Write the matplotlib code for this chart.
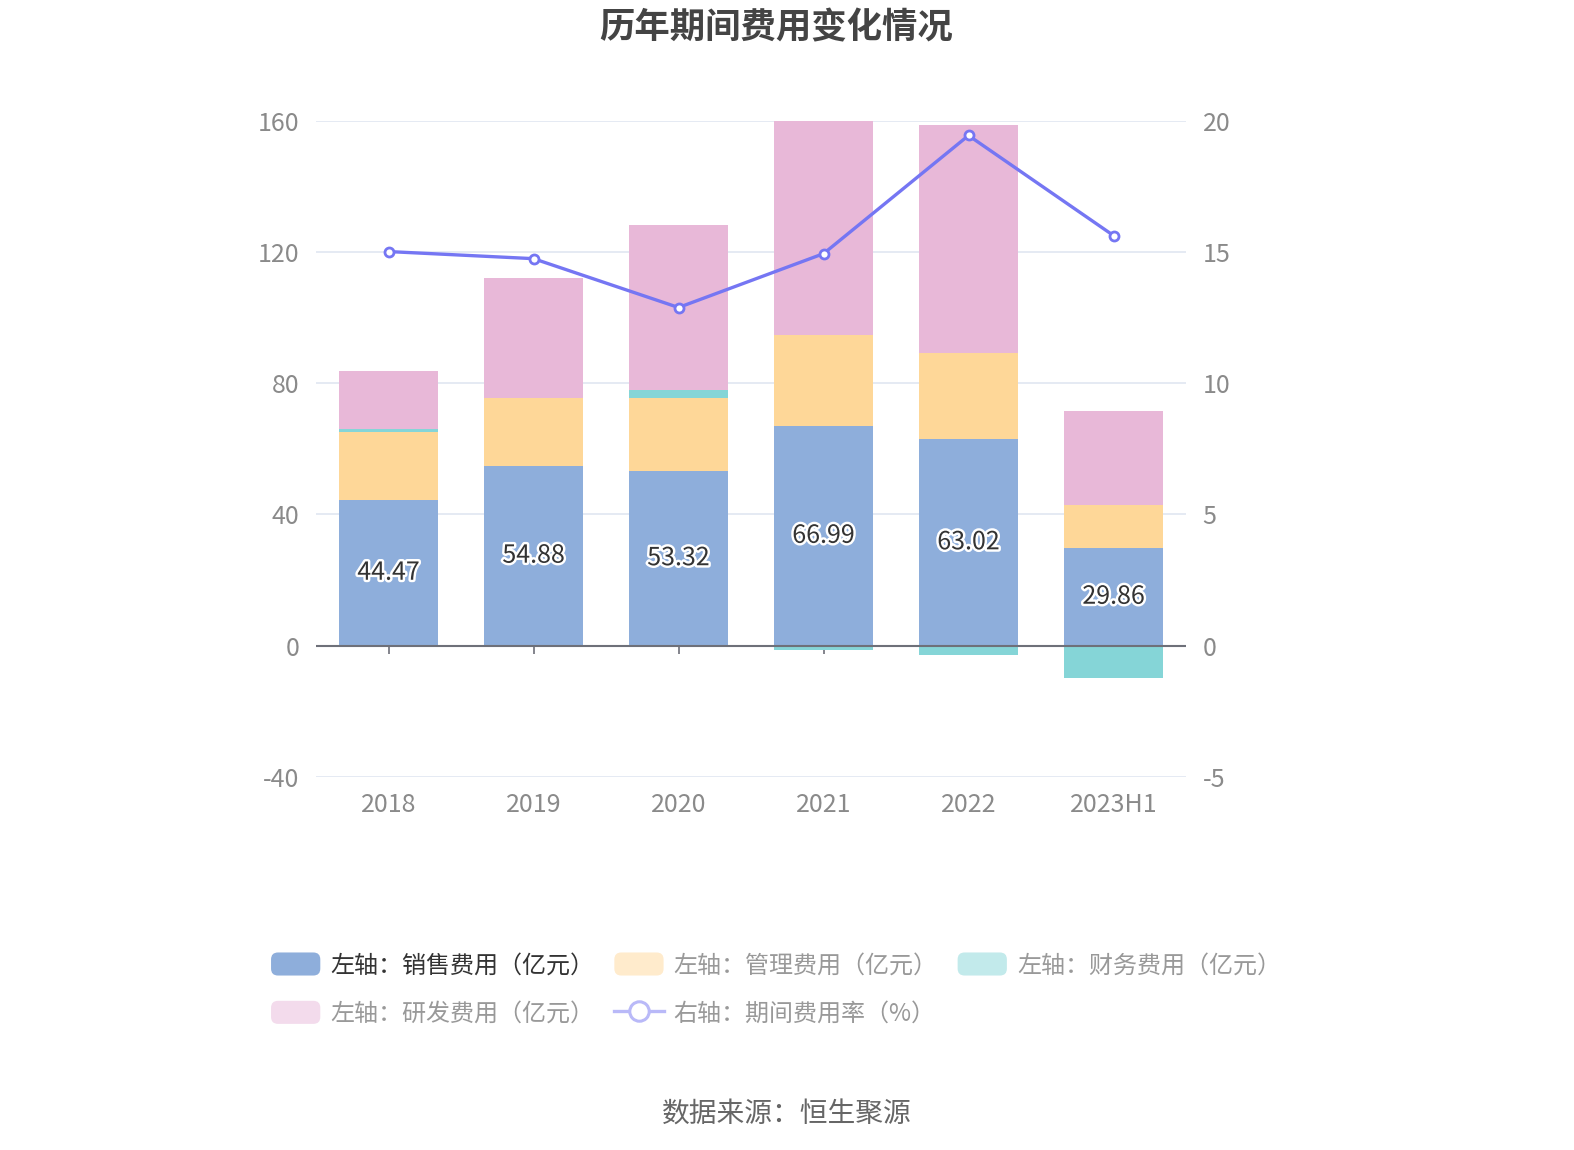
import matplotlib
matplotlib.use('Agg')
import matplotlib.pyplot as plt
import matplotlib.patheffects as pe
import numpy as np
from matplotlib.patches import FancyBboxPatch
from matplotlib.lines import Line2D
from matplotlib.legend_handler import HandlerPatch

plt.rcParams['font.family'] = ['Noto Sans CJK SC', 'DejaVu Sans']
plt.rcParams['axes.unicode_minus'] = False

# data (亿元 / %)
years = ['2018', '2019', '2020', '2021', '2022', '2023H1']
sales = [44.47, 54.88, 53.32, 66.99, 63.02, 29.86]
admin = [20.5, 20.7, 22.0, 27.8, 26.3, 13.1]
finance = [1.2, -0.3, 2.7, -1.2, -2.7, -9.8]
rnd = [17.6, 36.3, 50.0, 65.2, 69.2, 28.6]
rate = [15.01, 14.74, 12.88, 14.93, 19.43, 15.62]

labels = ['左轴：销售费用（亿元）', '左轴：管理费用（亿元）', '左轴：财务费用（亿元）',
          '左轴：研发费用（亿元）', '右轴：期间费用率（%）']
colors = ['#8eaedb', '#fed798', '#85d5d7', '#e8b8d8']
faded = ['#8eaedb', '#ffebcc', '#c2eaeb', '#f3dbec']
line_color = '#7576f3'
grid_color = '#e0e6f1'
axis_color = '#6e7079'
label_color = '#8a8a8a'

fig = plt.figure(figsize=(15.74, 11.5), dpi=100)
ax = fig.add_axes([0.2008, 0.3243, 0.5527, 0.5709])
ax2 = ax.twinx()

x = np.arange(len(years))
w = 0.685

# stacked bars: positives on positive side, negatives on negative side
pos = np.zeros(len(years))
neg = np.zeros(len(years))
for vals, c in zip([sales, admin, finance, rnd], colors):
    vals = np.array(vals)
    bottom = np.where(vals >= 0, pos, neg)
    ax.bar(x, vals, w, bottom=bottom, color=c, zorder=2, linewidth=0)
    pos = pos + np.where(vals >= 0, vals, 0)
    neg = neg + np.where(vals < 0, vals, 0)

for xi, v in zip(x, sales):
    ax.text(xi, v / 2, f'{v:.2f}', ha='center', va='center', fontsize=18,
            color='#333333', zorder=5,
            path_effects=[pe.withStroke(linewidth=3.5, foreground='white')])

ax2.plot(x, rate, color=line_color, lw=2.4, marker='o', markersize=6.5,
         markerfacecolor='white', markeredgecolor=line_color, markeredgewidth=2, zorder=4)

ax.set_xlim(-0.5, len(years) - 0.5)
ax.set_ylim(-40, 160)
ax2.set_ylim(-5, 20)
ax.set_yticks([-40, 0, 40, 80, 120, 160])
ax2.set_yticks([-5, 0, 5, 10, 15, 20])
ax.grid(axis='y', color=grid_color, lw=1.2, zorder=0)
ax.set_axisbelow(True)
ax.axhline(0, color=axis_color, lw=1.5, zorder=3)

for a in (ax, ax2):
    for s in a.spines.values():
        s.set_visible(False)
    a.tick_params(axis='y', length=0, labelsize=18, labelcolor=label_color, pad=12)

ax.set_xticks(x)
ax.set_xticklabels(years)
ax.tick_params(axis='x', length=0, labelsize=18, labelcolor=label_color, pad=10.5)

# tick marks under the zero line
sec = ax.secondary_xaxis(0.2)
sec.set_xticks(x)
sec.set_xticklabels([])
sec.tick_params(axis='x', length=6, width=1.2, color=axis_color, direction='out')
sec.spines['bottom'].set_visible(False)

fig.text(0.493, 0.9754, '历年期间费用变化情况', ha='center', va='center',
         fontsize=25.5, fontweight='bold', color='#444444')
fig.text(0.5, 0.0305, '数据来源：恒生聚源', ha='center', va='center',
         fontsize=20, color='#666666')


class RoundBox(HandlerPatch):
    def create_artists(self, legend, orig_handle, xdescent, ydescent, width, height, fontsize, trans):
        p = FancyBboxPatch((-xdescent, -ydescent), width, height,
                           boxstyle='round,pad=0,rounding_size=5',
                           facecolor=orig_handle.get_facecolor(), edgecolor='none',
                           transform=trans)
        return [p]


handles = [FancyBboxPatch((0, 0), 1, 1, facecolor=c) for c in faded]
handles.append(Line2D([], [], color='#b9b9f8', lw=2.4, marker='o', markersize=14,
                      markerfacecolor='white', markeredgecolor='#b9b9f8', markeredgewidth=2.2))
# legend fills column by column, so reorder to get row-major layout
order = [0, 3, 1, 4, 2]
leg = fig.legend([handles[i] for i in order], [labels[i] for i in order],
                 loc='center left', bbox_to_anchor=(0.1722, 0.1397), ncol=3,
                 frameon=False, fontsize=17.3, handlelength=2.05, handleheight=1.1,
                 handletextpad=0.42, columnspacing=0.83, labelspacing=0.93,
                 borderpad=0, borderaxespad=0,
                 handler_map={FancyBboxPatch: RoundBox()})
for i, t in zip(order, leg.get_texts()):
    t.set_color('#333333' if i == 0 else '#999999')

fig.savefig('out.png', dpi=100)
